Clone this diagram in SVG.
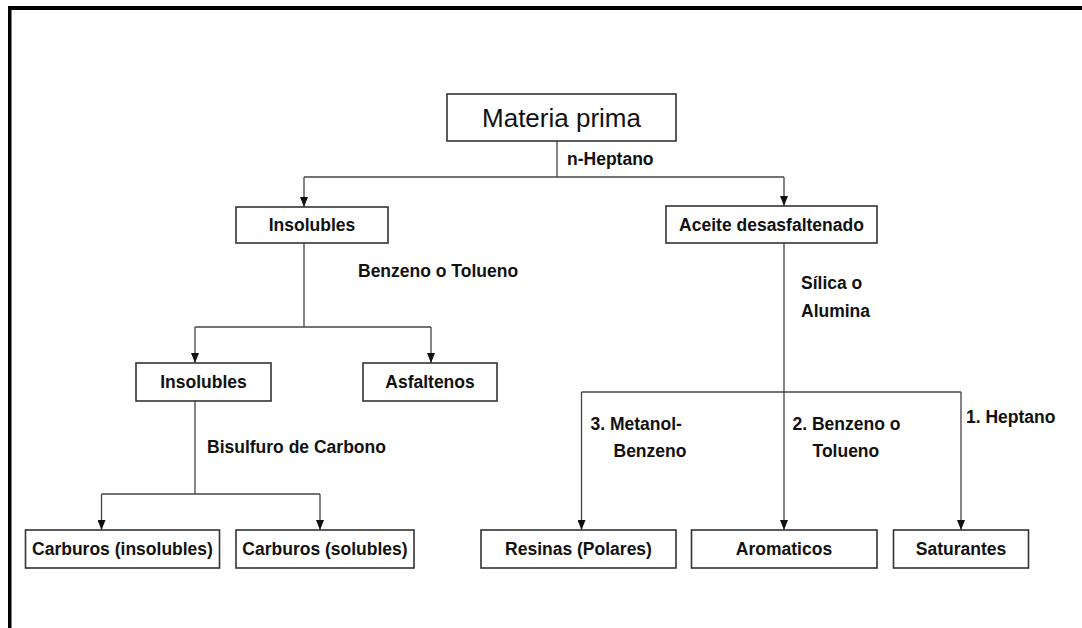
<svg xmlns="http://www.w3.org/2000/svg" width="1082" height="628" viewBox="0 0 1082 628">
<style>
.box{fill:#fff;stroke:#333;stroke-width:1.6}
.t{font-family:"Liberation Sans",Arial,sans-serif;font-size:17.5px;font-weight:bold;fill:#111}
.c{text-anchor:middle}
.big{font-family:"Liberation Sans",Arial,sans-serif;font-size:26px;fill:#111;text-anchor:middle}
.ln{fill:none;stroke:#444;stroke-width:1.3}
.ar{marker-end:url(#ah)}
</style>
<defs>
<marker id="ah" viewBox="0 0 8 10" refX="4" refY="10" markerWidth="8" markerHeight="10" markerUnits="userSpaceOnUse" orient="0">
<path d="M0,0 L8,0 L4,10 z" fill="#111"/>
</marker>
</defs>
<rect width="1082" height="628" fill="#fff"/>
<g id="frame">
<rect x="8" y="6" width="1074" height="4" fill="#000"/>
<rect x="8" y="6" width="3.5" height="622" fill="#000"/>
</g>
<g id="connectors">
<path class="ln" d="M557,141 V177"/>
<path class="ln" d="M304,177 H784"/>
<path class="ln ar" d="M304,177 V207"/>
<path class="ln ar" d="M784,177 V206"/>
<path class="ln" d="M304,243 V327"/>
<path class="ln" d="M195,327 H431"/>
<path class="ln ar" d="M195,327 V363"/>
<path class="ln ar" d="M431,327 V363"/>
<path class="ln" d="M195,401 V494"/>
<path class="ln" d="M101.5,494 H320"/>
<path class="ln ar" d="M101.5,494 V530"/>
<path class="ln ar" d="M320,494 V530"/>
<path class="ln ar" d="M784,243 V530"/>
<path class="ln" d="M581.5,392 H961"/>
<path class="ln ar" d="M581.5,392 V530"/>
<path class="ln ar" d="M961,392 V530"/>
</g>
<g id="labels">
<text class="t" x="567" y="165">n-Heptano</text>
<text class="t" x="358" y="277">Benzeno o Tolueno</text>
<text class="t" x="801" y="289">Sílica o</text>
<text class="t" x="801" y="317">Alumina</text>
<text class="t" x="207" y="453">Bisulfuro de Carbono</text>
<text class="t" x="590.5" y="430">3. Metanol-</text>
<text class="t" x="613.5" y="457">Benzeno</text>
<text class="t" x="792.5" y="430">2. Benzeno o</text>
<text class="t" x="812.5" y="457">Tolueno</text>
<text class="t" x="966" y="423">1. Heptano</text>
</g>
<g id="materia-prima">
<rect class="box" x="447" y="94" width="229" height="47"/>
<text class="big" x="561.5" y="127">Materia prima</text>
</g>
<g id="insolubles-1">
<rect class="box" x="236" y="207" width="152" height="36"/>
<text class="t c" x="312" y="231">Insolubles</text>
</g>
<g id="aceite-desasfaltenado">
<rect class="box" x="666" y="206" width="211" height="37"/>
<text class="t c" x="771.5" y="231">Aceite desasfaltenado</text>
</g>
<g id="insolubles-2">
<rect class="box" x="136" y="363" width="135" height="38"/>
<text class="t c" x="203.5" y="388">Insolubles</text>
</g>
<g id="asfaltenos">
<rect class="box" x="363" y="363" width="134" height="38"/>
<text class="t c" x="430" y="388">Asfaltenos</text>
</g>
<g id="carburos-insolubles">
<rect class="box" x="25.5" y="530" width="194" height="38"/>
<text class="t c" x="122.5" y="555">Carburos (insolubles)</text>
</g>
<g id="carburos-solubles">
<rect class="box" x="236" y="530" width="178" height="38"/>
<text class="t c" x="325" y="555">Carburos (solubles)</text>
</g>
<g id="resinas">
<rect class="box" x="481" y="530" width="195" height="38"/>
<text class="t c" x="578.5" y="555">Resinas (Polares)</text>
</g>
<g id="aromaticos">
<rect class="box" x="691.5" y="530" width="185.5" height="38"/>
<text class="t c" x="784" y="555">Aromaticos</text>
</g>
<g id="saturantes">
<rect class="box" x="893.5" y="530" width="135" height="38"/>
<text class="t c" x="961" y="555">Saturantes</text>
</g>
</svg>
